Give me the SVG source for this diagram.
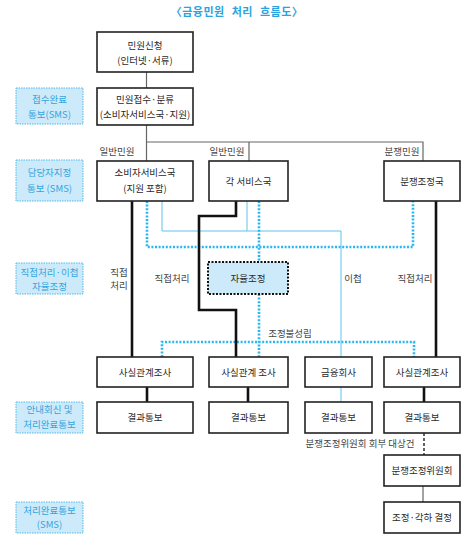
<svg xmlns="http://www.w3.org/2000/svg" width="470" height="545" viewBox="0 0 470 545">
<style>
text{font-family:"Noto Sans CJK KR","Noto Sans",sans-serif;font-size:9.5px;fill:#2a2a2a;text-anchor:middle}
.title{font-size:11px;font-weight:bold;fill:#2aa3e0;letter-spacing:0.5px;word-spacing:4px}
.box{fill:#fff;stroke:#222;stroke-width:1.6}
.side{fill:#cdeafa;stroke:#4fbbea;stroke-width:1;stroke-dasharray:1.5 1}
.side-t{fill:#34a4dc}
.gray{fill:none;stroke:#666;stroke-width:1.2}
.thick{fill:none;stroke:#111;stroke-width:2.6}
.bdot{fill:none;stroke:#2ab6f0;stroke-width:2.6;stroke-dasharray:2 1.6}
.bthin{fill:none;stroke:#5ec3ee;stroke-width:1}
.auto{fill:#cdeafa;stroke:#111;stroke-width:2;stroke-dasharray:2 1.5}
.lbl{fill:#444}
</style>
<text class="title" x="237" y="16">〈금융민원 처리 흐름도〉</text>

<g id="connectors">
  <path class="gray" d="M146.5 72V88M146.5 125V161M146.5 142H423V161M249 142V161"/>
  <path class="bthin" d="M162 201V231H341V357M247 201V231M341 387V402"/>
  <path class="bdot" d="M147 201V247H413V201"/>
  <path class="bdot" d="M259 201V262M259 294V357M162 357V342H414V357"/>
  <path class="thick" d="M132 201V357M236 201V216H199V310H236V357M436 201V357"/>
  <path class="thick" d="M147 387V402M248 387V402M424 387V402"/>
  <path fill="none" stroke="#222" stroke-width="1.4" stroke-dasharray="3 2" d="M424 433V455"/>
  <path class="gray" stroke-width="1.6" d="M423 486V502"/>
</g>

<g id="labels">
  <text class="lbl" x="117" y="155">일반민원</text>
  <text class="lbl" x="227" y="155">일반민원</text>
  <text class="lbl" x="402" y="155">분쟁민원</text>
  <text class="lbl" x="119" y="276">직접</text>
  <text class="lbl" x="119" y="289">처리</text>
  <text class="lbl" x="172" y="282">직접처리</text>
  <text class="lbl" x="353" y="282">이첩</text>
  <text class="lbl" x="415" y="282">직접처리</text>
  <text class="lbl" x="290" y="337">조정불성립</text>
  <text class="lbl" x="360" y="447">분쟁조정위원회 회부 대상건</text>
</g>

<g id="side1"><rect class="side" x="16" y="88" width="67" height="36"/><text class="side-t" x="49.5" y="103">접수완료</text><text class="side-t" x="49.5" y="118">통보(SMS)</text></g>
<g id="side2"><rect class="side" x="16" y="160" width="67" height="41"/><text class="side-t" x="49.5" y="176">담당자지정</text><text class="side-t" x="49.5" y="192">통보 (SMS)</text></g>
<g id="side3"><rect class="side" x="16" y="263" width="67" height="31"/><text class="side-t" x="49.5" y="276">직접처리·이첩</text><text class="side-t" x="49.5" y="290">자율조정</text></g>
<g id="side4"><rect class="side" x="16" y="402" width="67" height="31"/><text class="side-t" x="49.5" y="413">안내회신 및</text><text class="side-t" x="49.5" y="428">처리완료통보</text></g>
<g id="side5"><rect class="side" x="16" y="502" width="67" height="31"/><text class="side-t" x="49.5" y="514">처리완료통보</text><text class="side-t" x="49.5" y="528">(SMS)</text></g>

<g id="n-apply"><rect class="box" x="97" y="32" width="96" height="40"/><text x="145" y="49">민원신청</text><text x="145" y="64">(인터넷·서류)</text></g>
<g id="n-receive"><rect class="box" x="97" y="88" width="96" height="37"/><text x="145" y="103">민원접수·분류</text><text x="145" y="118">(소비자서비스국·지원)</text></g>
<g id="n-consumer"><rect class="box" x="97" y="161" width="96" height="40"/><text x="145" y="176">소비자서비스국</text><text x="145" y="192">(지원 포함)</text></g>
<g id="n-each"><rect class="box" x="209" y="161" width="79" height="40"/><text x="248.5" y="184.5">각 서비스국</text></g>
<g id="n-dispute"><rect class="box" x="384" y="161" width="76" height="40"/><text x="422" y="184.5">분쟁조정국</text></g>
<g id="n-auto"><rect class="auto" x="208" y="262" width="80" height="32"/><text x="248" y="281.5">자율조정</text></g>
<g id="n-fact1"><rect class="box" x="97" y="357" width="96" height="30"/><text x="145" y="375.5">사실관계조사</text></g>
<g id="n-fact2"><rect class="box" x="209" y="357" width="79" height="30"/><text x="248.5" y="375.5">사실관계 조사</text></g>
<g id="n-fin"><rect class="box" x="305" y="357" width="67" height="30"/><text x="338.5" y="375.5">금융회사</text></g>
<g id="n-fact3"><rect class="box" x="384" y="357" width="76" height="30"/><text x="422" y="375.5">사실관계조사</text></g>
<g id="n-res1"><rect class="box" x="97" y="402" width="96" height="31"/><text x="145" y="421">결과통보</text></g>
<g id="n-res2"><rect class="box" x="209" y="402" width="79" height="31"/><text x="248.5" y="421">결과통보</text></g>
<g id="n-res3"><rect class="box" x="305" y="402" width="67" height="31"/><text x="338.5" y="421">결과통보</text></g>
<g id="n-res4"><rect class="box" x="384" y="402" width="76" height="31"/><text x="422" y="421">결과통보</text></g>
<g id="n-committee"><rect class="box" x="384" y="455" width="76" height="31"/><text x="422" y="474">분쟁조정위원회</text></g>
<g id="n-decision"><rect class="box" x="384" y="502" width="76" height="31"/><text x="422" y="521">조정·각하 결정</text></g>
</svg>
